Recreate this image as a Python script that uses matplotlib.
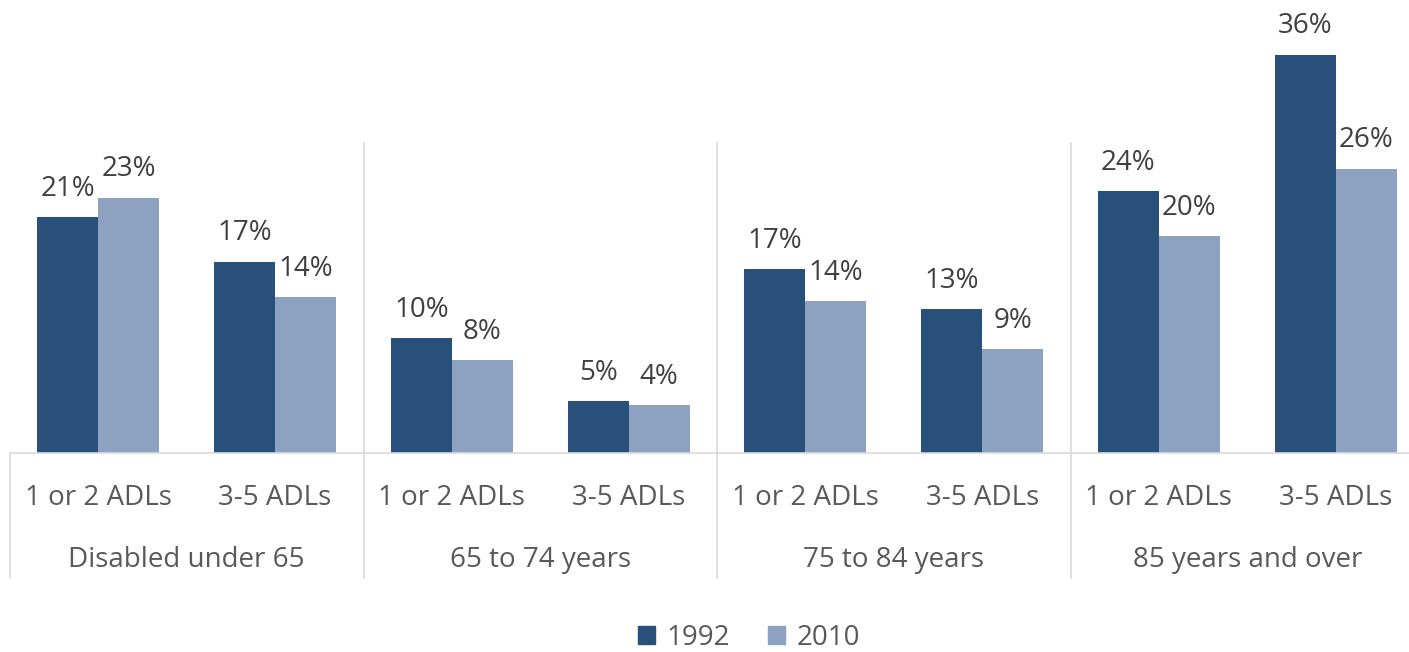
import numpy as np
import matplotlib.pyplot as plt
from matplotlib.patches import Patch

# datos
grupos = ["Disabled under 65", "65 to 74 years", "75 to 84 years", "85 years and over"]
subcats = ["1 or 2 ADLs", "3-5 ADLs"]
v1992 = [21.3, 17.3, 10.4, 4.7, 16.6, 13.0, 23.7, 36.0]
v2010 = [23.1, 14.1, 8.4, 4.3, 13.7, 9.4, 19.6, 25.7]
etq1992 = ["21%", "17%", "10%", "5%", "17%", "13%", "24%", "36%"]
etq2010 = ["23%", "14%", "8%", "4%", "14%", "9%", "20%", "26%"]

c1 = "#28507a"
c2 = "#8da1c1"
gris = "#d9d9d9"

plt.rcParams['font.family'] = ['Open Sans', 'DejaVu Sans']

fig = plt.figure(figsize=(14.09, 6.52), dpi=100)
# el eje x sigue un poco mas alla del borde derecho
ax = fig.add_axes([10/1409, 1-453/652, 1414/1409, 433/652])

n = len(v1992)
x = np.arange(n)
w = 0.345
ax.bar(x - w/2, v1992, w, color=c1)
ax.bar(x + w/2, v2010, w, color=c2)
ax.set_xlim(-0.5, n - 0.5)
ax.set_ylim(0, 433/11.06)

for i in range(n):
    ax.text(x[i] - w/2, v1992[i] + 1.3, etq1992[i], ha="center", va="bottom",
            fontsize=20, color="#404040")
    ax.text(x[i] + w/2, v2010[i] + 1.3, etq2010[i], ha="center", va="bottom",
            fontsize=20, color="#404040")

for s in ax.spines.values():
    s.set_visible(False)
ax.set_xticks([])
ax.set_yticks([])

tr = ax.get_xaxis_transform()
ph = 433  # alto del eje en pixeles
ax.plot([-0.5, n - 0.5], [0, 0], color=gris, lw=1.2, transform=tr, clip_on=False)
# separadores
ax.plot([-0.5, -0.5], [0, -125/ph], color=gris, lw=1.2, transform=tr, clip_on=False)
for k in range(1, len(grupos)):
    xs = 2*k - 0.5
    ax.plot([xs, xs], [(453-143)/ph, -125/ph], color=gris, lw=1.2, transform=tr, clip_on=False)

for i in range(n):
    ax.text(x[i], -45/ph, subcats[i % 2], ha="center", va="center", fontsize=20,
            color="#595959", transform=tr)
for k, g in enumerate(grupos):
    ax.text(2*k + 0.5, -107/ph, g, ha="center", va="center", fontsize=20,
            color="#595959", transform=tr)

handles = [Patch(color=c1, label="1992"), Patch(color=c2, label="2010")]
leg = fig.legend(handles=handles, loc="center", bbox_to_anchor=(749/1409, 1-638/652),
                 ncol=2, frameon=False, fontsize=20, handlelength=0.6, handleheight=0.6,
                 handletextpad=0.4, columnspacing=1.4)
for t in leg.get_texts():
    t.set_color("#595959")

fig.savefig("out.png", dpi=100)
